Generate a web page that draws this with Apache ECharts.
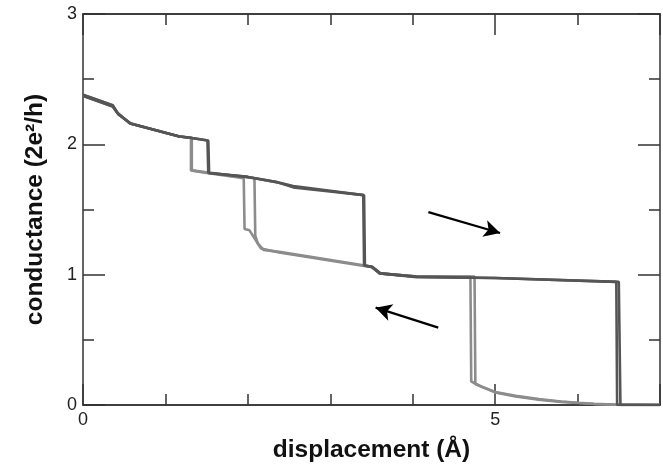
<!DOCTYPE html>
<html>
<head>
<meta charset="utf-8">
<script src="https://cdn.jsdelivr.net/npm/echarts@6/dist/echarts.min.js"></script>
<style>
  html, body { margin: 0; padding: 0; background: #fff; }
  #chart { width: 663px; height: 468px; }
</style>
</head>
<body>
<div id="chart"></div>
<script>
// stretching traces (dark), [displacement, conductance]
var forwardA = [
  [0, 2.38], [0.36, 2.30], [0.42, 2.24], [0.57, 2.16], [1.17, 2.06], [1.30, 2.05],
  [1.51, 2.03], [1.52, 1.78], [2.0, 1.75], [2.35, 1.71], [2.55, 1.68], [3.40, 1.61],
  [3.41, 1.07], [3.50, 1.06], [3.60, 1.01], [4.05, 0.98], [5.0, 0.975], [6.47, 0.945],
  [6.48, 0.0], [7.0, 0.0]
];
var forwardB = [
  [0, 2.37], [0.36, 2.29], [0.43, 2.23], [0.58, 2.16], [1.17, 2.06], [1.30, 2.05],
  [1.52, 2.03], [1.53, 1.78], [2.0, 1.75], [2.35, 1.71], [2.55, 1.67], [3.41, 1.61],
  [3.42, 1.07], [3.51, 1.06], [3.61, 1.01], [4.05, 0.985], [5.0, 0.975], [6.50, 0.945],
  [6.52, 0.0], [7.0, 0.0]
];
// return traces (light)
var backwardA = [
  [7.0, 0.0], [6.43, 0.003], [6.2, 0.008], [6.01, 0.015], [5.8, 0.024], [5.53, 0.04],
  [5.25, 0.065], [5.0, 0.097], [4.85, 0.135], [4.76, 0.165], [4.71, 0.18], [4.70, 0.985],
  [4.05, 0.985], [3.60, 1.01], [3.50, 1.06], [3.41, 1.066], [2.78, 1.13], [2.38, 1.17],
  [2.16, 1.20], [2.10, 1.26], [2.02, 1.34], [1.96, 1.35], [1.95, 1.74], [1.5, 1.78],
  [1.31, 1.80], [1.31, 2.05], [1.17, 2.06], [0.57, 2.16], [0.42, 2.24], [0.36, 2.30],
  [0, 2.38]
];
var backwardB = [
  [7.0, 0.0], [6.45, 0.003], [6.2, 0.009], [6.01, 0.017], [5.8, 0.027], [5.53, 0.045],
  [5.25, 0.07], [5.0, 0.10], [4.88, 0.13], [4.80, 0.15], [4.76, 0.16], [4.75, 0.985],
  [4.05, 0.985], [3.60, 1.01], [3.50, 1.06], [3.42, 1.07], [2.78, 1.135], [2.38, 1.175],
  [2.19, 1.19], [2.12, 1.24], [2.09, 1.30], [2.08, 1.74], [1.5, 1.785], [1.32, 1.80],
  [1.32, 2.05], [1.17, 2.06], [0.58, 2.16], [0.43, 2.23], [0.36, 2.29], [0, 2.375]
];
// direction arrows [from, to]
var arrowOut = [[4.19, 1.48], [5.06, 1.32]];
var arrowBack = [[4.31, 0.594], [3.55, 0.747]];

var xTicksMajor = [0, 5];

var font = 'Liberation Sans, Arial, sans-serif';
var axisCol = '#333';
var darkCol = '#555555';
var lightCol = '#8c8c8c';

function baseX(pos, interval, len, labels) {
  return {
    type: 'value', position: pos, min: 0, max: 7, interval: interval,
    axisLine: { show: true, onZero: false, lineStyle: { color: axisCol, width: 1.5 } },
    axisTick: { show: true, inside: true, length: len, lineStyle: { color: axisCol, width: 1.5 } },
    axisLabel: labels ? {
      show: true, fontFamily: font, fontSize: 18, color: '#222', margin: 6,
      formatter: function (v) { return xTicksMajor.indexOf(v) >= 0 ? String(v) : ''; }
    } : { show: false },
    splitLine: { show: false }
  };
}
function baseY(pos, labels) {
  return {
    type: 'value', position: pos, min: 0, max: 3, interval: 1,
    axisLine: { show: true, onZero: false, lineStyle: { color: axisCol, width: 1.5 } },
    axisTick: { show: true, inside: true, length: 22, lineStyle: { color: axisCol, width: 1.5 } },
    minorTick: { show: true, splitNumber: 2, length: 11, lineStyle: { color: axisCol, width: 1.5 } },
    axisLabel: labels ? { show: true, fontFamily: font, fontSize: 18, color: '#222', margin: 6 } : { show: false },
    splitLine: { show: false }
  };
}

function trace(data, color) {
  return {
    type: 'line', data: data, symbol: 'none', xAxisIndex: 0, yAxisIndex: 0,
    lineStyle: { color: color, width: 2.6 }, silent: true, animation: false
  };
}

var xBottom = baseX('bottom', 5, 21, true);
xBottom.name = 'displacement (Å)';
xBottom.nameLocation = 'middle';
xBottom.nameGap = 33;
xBottom.nameTextStyle = { fontFamily: font, fontSize: 24.5, fontWeight: 'bold', color: '#111' };

var yLeft = baseY('left', true);
yLeft.name = 'conductance (2e²/h)';
yLeft.nameLocation = 'middle';
yLeft.nameGap = 35;
yLeft.nameTextStyle = { fontFamily: font, fontSize: 24.5, fontWeight: 'bold', color: '#111' };

var myChart = echarts.init(document.getElementById('chart'));
myChart.setOption({
  backgroundColor: '#fff',
  animation: false,
  grid: { left: 83, right: 1, top: 14, bottom: 62, containLabel: false },
  xAxis: [
    xBottom,
    baseX('bottom', 1, 11, false),
    baseX('top', 5, 21, false),
    baseX('top', 1, 11, false)
  ],
  yAxis: [yLeft, baseY('right', false)],
  series: [
    trace(backwardA, lightCol),
    trace(backwardB, lightCol),
    trace(forwardA, darkCol),
    trace(forwardB, darkCol),
    {
      type: 'line', data: [], xAxisIndex: 0, yAxisIndex: 0,
      markLine: {
        silent: true, animation: false,
        symbol: ['none', 'arrow'], symbolSize: [13, 16],
        label: { show: false },
        lineStyle: { color: '#000', width: 2.2, type: 'solid' },
        emphasis: { disabled: true },
        data: [
          [{ coord: arrowOut[0] }, { coord: arrowOut[1] }],
          [{ coord: arrowBack[0] }, { coord: arrowBack[1] }]
        ]
      }
    }
  ]
});
</script>
</body>
</html>
